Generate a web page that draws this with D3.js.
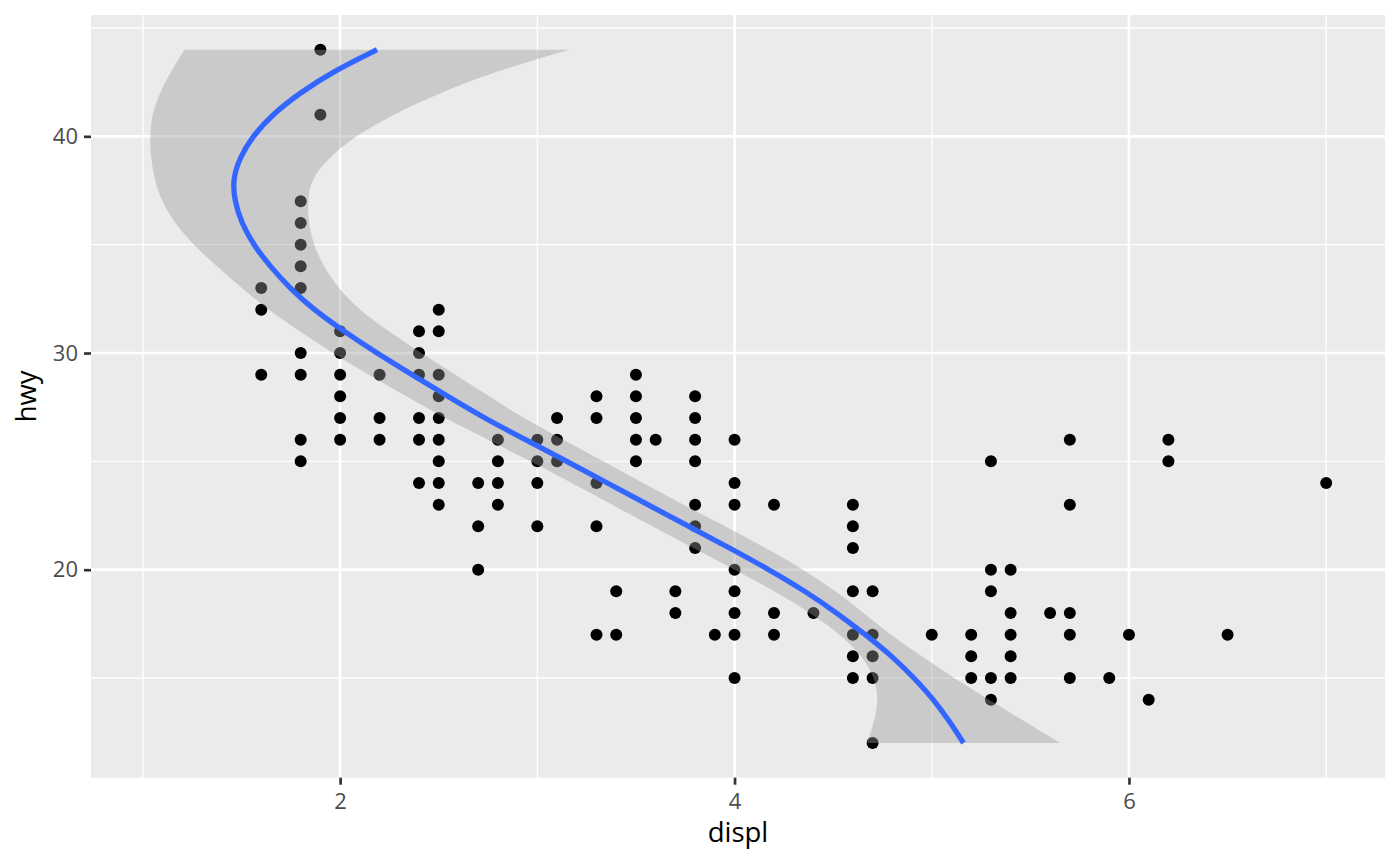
<!DOCTYPE html>
<html>
<head>
<meta charset="utf-8">
<script src="https://cdn.jsdelivr.net/npm/d3@7"></script>
<style>
  html, body { margin: 0; padding: 0; background: #ffffff; }
  svg { display: block; }
  text { font-family: "Open Sans", "Noto Sans", sans-serif; }
</style>
</head>
<body>
<svg id="chart" width="1400" height="866"></svg>
<script>
// ---- data: mpg scatter (unique displ / hwy pairs) ----
const pointDispl = [
  1.6,1.6,1.6,
  1.8,1.8,1.8,1.8,1.8,1.8,1.8,1.8,1.8,
  1.9,1.9,
  2.0,2.0,2.0,2.0,2.0,2.0,
  2.2,2.2,2.2,
  2.4,2.4,2.4,2.4,2.4,2.4,
  2.5,2.5,2.5,2.5,2.5,2.5,2.5,2.5,2.5,
  2.7,2.7,2.7,
  2.8,2.8,2.8,2.8,
  3.0,3.0,3.0,3.0,
  3.1,3.1,3.1,
  3.3,3.3,3.3,3.3,3.3,
  3.4,3.4,
  3.5,3.5,3.5,3.5,3.5,
  3.6,
  3.7,3.7,
  3.8,3.8,3.8,3.8,3.8,3.8,3.8,
  3.9,
  4.0,4.0,4.0,4.0,4.0,4.0,4.0,4.0,
  4.2,4.2,4.2,
  4.4,
  4.6,4.6,4.6,4.6,4.6,4.6,4.6,
  4.7,4.7,4.7,4.7,4.7,
  5.0,
  5.2,5.2,5.2,
  5.3,5.3,5.3,5.3,5.3,
  5.4,5.4,5.4,5.4,5.4,
  5.6,
  5.7,5.7,5.7,5.7,5.7,
  5.9,
  6.0,
  6.1,
  6.2,6.2,
  6.5,
  7.0
];
const pointHwy = [
  33,32,29,
  37,36,35,34,33,30,29,26,25,
  44,41,
  31,30,29,28,27,26,
  29,27,26,
  31,30,29,27,26,24,
  32,31,29,28,27,26,25,24,23,
  24,22,20,
  26,25,24,23,
  26,25,24,22,
  27,26,25,
  28,27,24,22,17,
  19,17,
  29,28,27,26,25,
  26,
  19,18,
  28,27,26,25,23,22,21,
  17,
  26,24,23,20,19,18,17,15,
  23,18,17,
  18,
  23,22,21,19,17,16,15,
  19,17,16,15,12,
  17,
  17,16,15,
  25,20,19,15,14,
  20,18,17,16,15,
  18,
  26,23,18,17,15,
  15,
  17,
  14,
  26,25,
  17,
  24
];

// ---- smooth (loess of displ on hwy) ----
const smoothHwy = [12,13,14,15,16,17,18,19,20,21,22,23,24,25,26,27,28,29,30,31,32,33,34,35,36,37,38,39,40,41,42,43,44];
const smoothFit = [5.161,5.09,5.01,4.911,4.80,4.664,4.52,4.36,4.176,3.975,3.768,3.56,3.355,3.15,2.94,2.73,2.545,2.365,2.185,2.02,1.865,1.745,1.645,1.56,1.50,1.465,1.455,1.49,1.555,1.655,1.795,1.965,2.187];
const smoothLo  = [4.671,4.71,4.73,4.711,4.65,4.539,4.385,4.205,4.001,3.79,3.583,3.38,3.175,2.965,2.75,2.53,2.335,2.145,1.96,1.795,1.635,1.50,1.375,1.255,1.16,1.095,1.059,1.04,1.035,1.045,1.085,1.143,1.211];
const smoothHi  = [5.651,5.47,5.29,5.111,4.95,4.789,4.655,4.515,4.351,4.16,3.953,3.74,3.535,3.335,3.13,2.93,2.755,2.585,2.41,2.245,2.095,1.99,1.915,1.865,1.84,1.835,1.851,1.94,2.075,2.265,2.505,2.787,3.163];

// ---- axis breaks ----
const xBreaks = [2, 4, 6];
const xMinor = [1, 3, 5, 7];
const yBreaks = [20, 30, 40];
const yMinor = [15, 25, 35, 45];
const xTitle = "displ";
const yTitle = "hwy";

// ---- layout ----
const panel = { left: 91, right: 1385, top: 15, bottom: 777.7 };

const xMin = Math.min(d3.min(pointDispl), d3.min(smoothLo));
const xMax = Math.max(d3.max(pointDispl), d3.max(smoothHi));
const xPad = (xMax - xMin) * 0.05;
const yMin = Math.min(d3.min(pointHwy), d3.min(smoothHwy));
const yMax = Math.max(d3.max(pointHwy), d3.max(smoothHwy));
const yPad = (yMax - yMin) * 0.05;

const x = d3.scaleLinear().domain([xMin - xPad, xMax + xPad]).range([panel.left, panel.right]);
const y = d3.scaleLinear().domain([yMin - yPad, yMax + yPad]).range([panel.bottom, panel.top]);

const svg = d3.select("#chart");
svg.append("rect").attr("width", 1400).attr("height", 866).attr("fill", "#ffffff");

// panel background
svg.append("rect")
  .attr("x", panel.left).attr("y", panel.top)
  .attr("width", panel.right - panel.left).attr("height", panel.bottom - panel.top)
  .attr("fill", "#EBEBEB");

const grid = svg.append("g");
// minor grid
grid.selectAll("line.xminor").data(xMinor).join("line")
  .attr("x1", d => x(d)).attr("x2", d => x(d))
  .attr("y1", panel.top).attr("y2", panel.bottom)
  .attr("stroke", "#ffffff").attr("stroke-width", 1.33);
grid.selectAll("line.yminor").data(yMinor).join("line")
  .attr("y1", d => y(d)).attr("y2", d => y(d))
  .attr("x1", panel.left).attr("x2", panel.right)
  .attr("stroke", "#ffffff").attr("stroke-width", 1.33);
// major grid
grid.selectAll("line.xmajor").data(xBreaks).join("line")
  .attr("x1", d => x(d)).attr("x2", d => x(d))
  .attr("y1", panel.top).attr("y2", panel.bottom)
  .attr("stroke", "#ffffff").attr("stroke-width", 2.67);
grid.selectAll("line.ymajor").data(yBreaks).join("line")
  .attr("y1", d => y(d)).attr("y2", d => y(d))
  .attr("x1", panel.left).attr("x2", panel.right)
  .attr("stroke", "#ffffff").attr("stroke-width", 2.67);

// points
const pts = pointDispl.map((d, i) => ({ displ: d, hwy: pointHwy[i] }));
svg.append("g").selectAll("circle").data(pts).join("circle")
  .attr("cx", d => x(d.displ)).attr("cy", d => y(d.hwy))
  .attr("r", 6).attr("fill", "#000000");

// smooth ribbon + line
const sm = smoothHwy.map((h, i) => ({ hwy: h, fit: smoothFit[i], lo: smoothLo[i], hi: smoothHi[i] }));
const area = d3.area()
  .y(d => y(d.hwy)).x0(d => x(d.lo)).x1(d => x(d.hi))
  .curve(d3.curveBasis);
svg.append("path").datum(sm)
  .attr("d", area)
  .attr("fill", "#999999").attr("fill-opacity", 0.4);

const line = d3.line()
  .x(d => x(d.fit)).y(d => y(d.hwy))
  .curve(d3.curveBasis);
svg.append("path").datum(sm)
  .attr("d", line)
  .attr("fill", "none").attr("stroke", "#3366FF").attr("stroke-width", 5.3)
  .attr("stroke-linecap", "butt");

// axes
const xAxis = d3.axisBottom(x).tickValues(xBreaks).tickSize(7).tickSizeOuter(0).tickPadding(8.7).tickFormat(d3.format("d"));
const yAxis = d3.axisLeft(y).tickValues(yBreaks).tickSize(7).tickSizeOuter(0).tickPadding(6).tickFormat(d3.format("d"));

const gx = svg.append("g").attr("transform", `translate(0,${panel.bottom})`).call(xAxis);
const gy = svg.append("g").attr("transform", `translate(${panel.left},0)`).call(yAxis);
[gx, gy].forEach(g => {
  g.select(".domain").remove();
  g.selectAll(".tick line").attr("stroke", "#333333").attr("stroke-width", 2.67);
  g.selectAll(".tick text")
    .attr("fill", "#4D4D4D")
    .style("font-size", "22px")
    .style("font-family", "'Open Sans', 'Noto Sans', sans-serif");
});

// axis titles
svg.append("text")
  .attr("x", (panel.left + panel.right) / 2).attr("y", 842)
  .attr("text-anchor", "middle")
  .style("font-size", "27.5px").attr("fill", "#000000")
  .text(xTitle);
svg.append("text")
  .attr("transform", `translate(36,${(panel.top + panel.bottom) / 2}) rotate(-90)`)
  .attr("text-anchor", "middle")
  .style("font-size", "27.5px").attr("fill", "#000000")
  .text(yTitle);
</script>
</body>
</html>
